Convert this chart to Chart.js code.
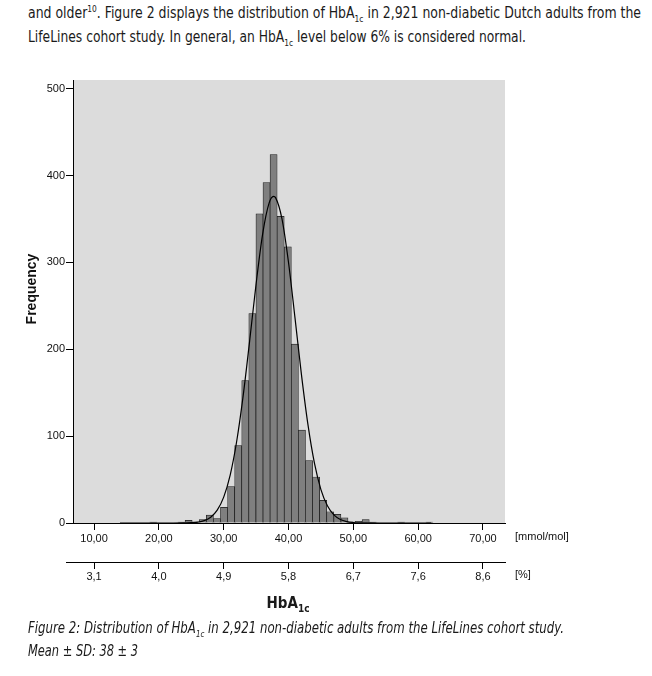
<!DOCTYPE html>
<html>
<head>
<meta charset="utf-8">
<script src="https://cdn.jsdelivr.net/npm/chart.js@4.4.1/dist/chart.umd.min.js"></script>
<style>
    body {
        margin: 0;
        width: 652px;
        height: 676px;
        overflow: hidden;
        background: #fff;
        color: #1a1a1a;
        font-family: 'Liberation Sans Narrow', 'DejaVu Sans Condensed', sans-serif;
    }
    #chartBox { position: absolute; left: 0; top: 0; width: 652px; height: 676px; }
    .txt { position: absolute; white-space: nowrap; font-size: 15px; line-height: 18px; transform-origin: 0 50%; }
    .txt sub { font-size: 9px; vertical-align: -4px; line-height: 0; }
    .txt sup { font-size: 9px; vertical-align: 6px; line-height: 0; }
    .cap { font-style: italic; }
    #xTitle { position: absolute; left: 188px; width: 200px; top: 594px; text-align: center; font-weight: bold; font-size: 15px; line-height: 18px; }
    #xTitle sub { font-size: 10px; vertical-align: -4px; line-height: 0; }
</style>
</head>
<body>

<div class="txt" data-w="613" style="left:28px; top:4px;">and older<sup>10</sup>. Figure 2 displays the distribution of HbA<sub>1c</sub> in 2,921 non-diabetic Dutch adults from the</div>
<div class="txt" data-w="498" style="left:28px; top:28px;">LifeLines cohort study. In general, an HbA<sub>1c</sub> level below 6% is considered normal.</div>

<div id="chartBox"><canvas id="chartHbA1c"></canvas></div>

<div id="xTitle">HbA<sub>1c</sub></div>
<div class="txt cap" data-w="536" style="left:28px; top:619px;">Figure 2: Distribution of HbA<sub>1c</sub> in 2,921 non-diabetic adults from the LifeLines cohort study.</div>
<div class="txt cap" data-w="110" style="left:28px; top:642px;">Mean ± SD: 38 ± 3</div>

<script>
// bin centres in mmol/mol (one bin = 0.1 % HbA1c, from 3.9 % up to 7.8 %)
const binCenters = [19.13, 20.22, 21.31, 22.41, 23.50, 24.59, 25.68, 26.77, 27.87, 28.96,
                    30.05, 31.15, 32.24, 33.33, 34.42, 35.52, 36.61, 37.70, 38.79, 39.89,
                    40.98, 42.07, 43.17, 44.26, 45.35, 46.44, 47.54, 48.63, 49.72, 50.81,
                    51.91, 53.00, 54.09, 55.19, 56.28, 57.37, 58.46, 59.56, 60.65, 61.74];
const binCounts  = [1, 0, 0, 0, 1, 3, 1, 4, 9, 5,
                    18, 42, 89, 164, 241, 356, 392, 424, 353, 318,
                    206, 107, 72, 53, 26, 13, 10, 6, 1, 2,
                    4, 1, 0, 0, 0, 1, 0, 0, 0, 1];

// normal curve
const curveX = [14, 20, 22, 24, 25, 26, 27, 28, 29, 30, 31, 32, 33, 34, 35, 36, 37, 37.7,
                38, 39, 40, 41, 42, 43, 44, 45, 46, 47, 48, 49, 50, 51, 52, 54, 62];
const curveY = [0, 0, 0.01, 0.12, 0.38, 1.1, 2.8, 6.7, 14.8, 29.8, 55.2, 93.8, 146.3, 209.4, 275.3, 332.3, 368.2, 376,
                374.6, 349.8, 299.9, 236.1, 170.6, 113.2, 68.9, 38.5, 19.8, 9.3, 4.0, 1.6, 0.58, 0.19, 0.06, 0, 0];

// tick values and the labels of the second (%) axis
const xTickValues = [10, 20, 30, 40, 50, 60, 70];
const yTickValues = [0, 100, 200, 300, 400, 500];
const pctTickLabels = ['3,1', '4,0', '4,9', '5,8', '6,7', '7,6', '8,6'];

const axisFamily = "'Liberation Sans', Arial, sans-serif";
const axisFont = { family: axisFamily, size: 11 };

// fit the text lines to the width they have in the original page
document.querySelectorAll('.txt[data-w]').forEach(function (el) {
    const w = el.getBoundingClientRect().width;
    el.style.transform = 'scaleX(' + (el.dataset.w / w) + ')';
});

function setTicks(values) {
    return function (scale) {
        scale.ticks = values.map(function (v) { return { value: v }; });
    };
}

const plotDecor = {
    id: 'plotDecor',
    beforeDraw(chart) {
        const { ctx, chartArea: a } = chart;
        ctx.save();
        ctx.fillStyle = '#dcdcdc';
        ctx.fillRect(a.left, a.top, a.right - a.left, a.bottom - a.top);
        ctx.restore();
    },
    afterDraw(chart) {
        const { ctx, chartArea: a } = chart;
        const sx = chart.scales.x, sx2 = chart.scales.x2;
        ctx.save();
        // the % axis line runs a little further left than the plot
        ctx.strokeStyle = '#000';
        ctx.lineWidth = 1;
        ctx.beginPath();
        ctx.moveTo(a.left - 7, sx2.top + 0.5);
        ctx.lineTo(a.left, sx2.top + 0.5);
        ctx.stroke();

        ctx.fillStyle = '#111';
        ctx.font = '11px ' + axisFamily;
        ctx.textBaseline = 'middle';
        ctx.fillText('[mmol/mol]', a.right + 10, sx.top + 14);
        ctx.fillText('[%]', a.right + 10, sx2.top + 13);

        // y axis title
        ctx.font = 'bold 14px ' + axisFamily;
        ctx.textAlign = 'center';
        ctx.translate(32, 289);
        ctx.rotate(-Math.PI / 2);
        ctx.fillText('Frequency', 0, 0);
        ctx.restore();
    }
};

const ctx = document.getElementById('chartHbA1c');

new Chart(ctx, {
    type: 'bar',
    data: {
        datasets: [{
            type: 'line',
            data: curveX.map(function (x, i) { return { x: x, y: curveY[i] }; }),
            borderColor: '#000',
            borderWidth: 1.2,
            pointRadius: 0,
            cubicInterpolationMode: 'monotone',
            fill: false,
            order: 0
        }, {
            data: binCenters.map(function (x, i) { return { x: x, y: binCounts[i] }; }),
            backgroundColor: '#7f7f7f',
            borderColor: '#1a1a1a',
            borderWidth: 0.7,
            barPercentage: 1.0,
            categoryPercentage: 1.0,
            order: 1
        }]
    },
    plugins: [plotDecor],
    options: {
        responsive: true,
        maintainAspectRatio: false,
        animation: false,
        layout: {
            padding: { top: 80, right: 147, bottom: 89, left: 0 }
        },
        plugins: {
            legend: { display: false },
            tooltip: { enabled: false }
        },
        scales: {
            x: {
                type: 'linear',
                min: 6.75,
                max: 73.4,
                offset: false,
                afterBuildTicks: setTicks(xTickValues),
                afterFit: function (s) { s.height = 39; },
                grid: { offset: false, drawOnChartArea: false, drawTicks: true, tickLength: 7, color: '#000' },
                border: { display: true, color: '#000', width: 1 },
                ticks: {
                    autoSkip: false,
                    maxRotation: 0,
                    padding: 2,
                    color: '#111',
                    font: axisFont,
                    callback: function (v) { return v.toFixed(2).replace('.', ','); }
                }
            },
            x2: {
                type: 'linear',
                position: 'bottom',
                min: 6.75,
                max: 73.4,
                offset: false,
                afterBuildTicks: setTicks(xTickValues),
                afterFit: function (s) { s.height = 25; },
                grid: { offset: false, drawOnChartArea: false, drawTicks: true, tickLength: 7, color: '#000' },
                border: { display: true, color: '#000', width: 1 },
                ticks: {
                    autoSkip: false,
                    maxRotation: 0,
                    padding: 1,
                    color: '#111',
                    font: axisFont,
                    callback: function (v, i) { return pctTickLabels[i]; }
                }
            },
            y: {
                min: 0,
                max: 510,
                afterBuildTicks: setTicks(yTickValues),
                afterFit: function (s) { s.width = 73; },
                grid: { drawOnChartArea: false, drawTicks: true, tickLength: 7, color: '#000' },
                border: { display: true, color: '#000', width: 1 },
                ticks: {
                    padding: 1,
                    color: '#111',
                    font: axisFont
                }
            }
        }
    }
});
</script>
</body>
</html>
